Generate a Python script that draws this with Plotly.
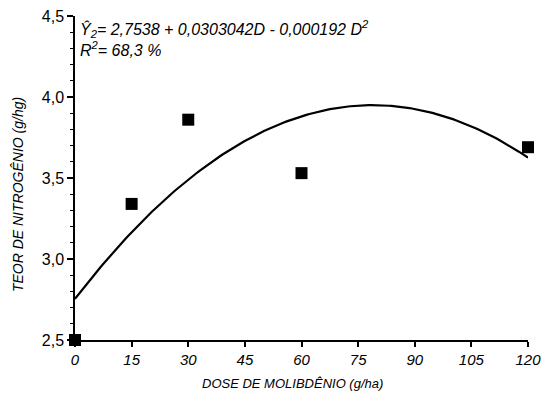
import numpy as np
import plotly.graph_objects as go

# Data
dose = [0, 15, 30, 60, 120]
nitrogen = [2.50, 3.34, 3.86, 3.53, 3.69]

# Regression coefficients shown in the chart
coef_b0 = 2.7538
coef_b1 = 0.0303042
coef_b2 = -0.000192

x_tick_vals = [0, 15, 30, 45, 60, 75, 90, 105, 120]
x_tick_text = ["0", "15", "30", "45", "60", "75", "90", "105", "120"]
y_tick_vals = [2.5, 3.0, 3.5, 4.0, 4.5]
y_tick_text = ["2,5", "3,0", "3,5", "4,0", "4,5"]

xc = np.linspace(0, 120, 200)
yc = coef_b0 + coef_b1 * xc + coef_b2 * xc ** 2

font_family = "Liberation Sans, Arial, sans-serif"

fig = go.Figure()
fig.add_trace(go.Scatter(x=xc, y=yc, mode="lines",
                         line=dict(color="black", width=2.2), hoverinfo="skip"))
fig.add_trace(go.Scatter(x=dose, y=nitrogen, mode="markers",
                         marker=dict(symbol="square", size=12, color="black"),
                         cliponaxis=False))

fig.update_layout(
    width=543, height=394,
    margin=dict(l=75, r=15, t=16, b=54, autoexpand=False),
    paper_bgcolor="white", plot_bgcolor="white",
    showlegend=False,
    font=dict(family=font_family, color="black"),
)
fig.update_xaxes(
    range=[0, 120], tickvals=x_tick_vals, ticktext=x_tick_text,
    showgrid=False, zeroline=False, showline=True, linecolor="black", linewidth=1.5,
    ticks="outside", ticklen=5, tickwidth=1.5, tickcolor="black",
    tickfont=dict(size=15, style="italic", family=font_family),
    ticklabeloverflow="allow", automargin=False,
)
fig.update_yaxes(
    range=[2.5, 4.5], tickvals=y_tick_vals, ticktext=y_tick_text,
    showgrid=False, zeroline=False, showline=True, linecolor="black", linewidth=1.5,
    ticks="outside", ticklen=6, tickwidth=1.5, tickcolor="black",
    tickfont=dict(size=16, family=font_family),
    ticklabeloverflow="allow", automargin=False,
    minor=dict(dtick=0.1, ticks="outside", ticklen=3, tickwidth=1.2, tickcolor="black", showgrid=False),
)

fig.add_annotation(
    xref="paper", yref="paper", x=0.006, y=1.0, xanchor="left", yanchor="top",
    text="Ŷ<sub>2</sub>= 2,7538 + 0,0303042D - 0,000192 D<sup>2</sup><br>R<sup>2</sup>= 68,3 %",
    showarrow=False, align="left",
    font=dict(size=16, style="italic", family=font_family),
)
fig.add_annotation(
    xref="paper", yref="paper", x=0.48, y=-0.105, xanchor="center", yanchor="top",
    text="DOSE DE MOLIBDÊNIO (g/ha)", showarrow=False,
    font=dict(size=13, style="italic", family=font_family),
)
fig.add_annotation(
    xref="paper", yref="paper", x=-0.126, y=0.45, xanchor="center", yanchor="middle",
    text="TEOR DE NITROGÊNIO (g/hg)", showarrow=False, textangle=-90,
    font=dict(size=14, style="italic", family=font_family),
)

fig.write_html(
    "out.html",
    config={"displayModeBar": False},
    post_script="document.body.style.margin='0';document.body.style.overflow='hidden';",
)
